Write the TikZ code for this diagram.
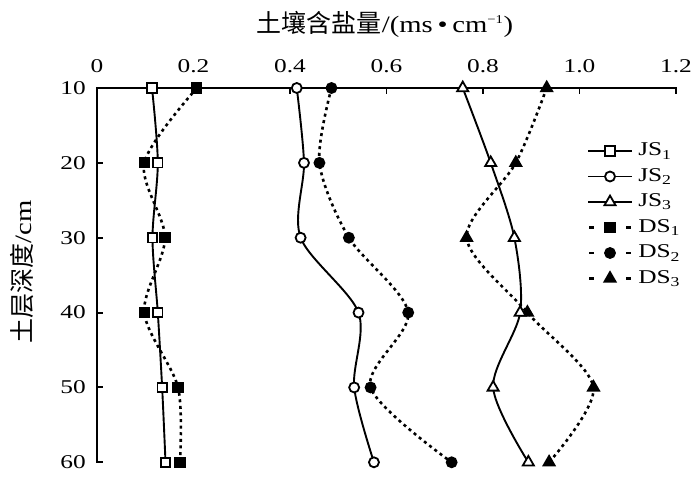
\documentclass[tikz,border=0pt]{standalone}
\usepackage{fontspec}
\usepackage{graphicx}
\usetikzlibrary{plotmarks}
\setmainfont{Liberation Serif}
\newfontfamily\cjk{Noto Sans CJK SC}
\newcommand{\wide}[1]{\scalebox{1.22}[1]{#1}}
\begin{document}
\begin{tikzpicture}[x=1pt,y=-1pt,
  axisline/.style={line width=1.9pt},
  jsline/.style={line width=1.9pt},
  dsline/.style={line width=2.6pt, dash pattern=on 3pt off 3.6pt},
  ticklbl/.style={font=\fontsize{19.5}{20}\selectfont, inner sep=0pt, xscale=1.3},
  leglbl/.style={font=\fontsize{19.5}{20}\selectfont, inner sep=0pt, anchor=west, xscale=1.3},
  sqo/.style={mark=square*, mark size=4.7pt, mark options={solid, fill=white, line width=1.8pt}},
  sqf/.style={mark=square*, mark size=4.7pt, mark options={solid, fill=black, line width=1.8pt}},
  cio/.style={mark=*, mark size=5pt, mark options={solid, fill=white, line width=1.8pt}},
  cif/.style={mark=*, mark size=5pt, mark options={solid, fill=black, line width=1.8pt}},
  tro/.style={mark=triangle*, mark size=6.4pt, mark options={solid, fill=white, line width=1.8pt}},
  trf/.style={mark=triangle*, mark size=6.4pt, mark options={solid, fill=black, line width=1.8pt}},
]
\useasboundingbox (0,0) rectangle (700,503);
% title
\node[inner sep=0pt] (title) at (385,24) {\cjk\fontsize{25}{26}\selectfont 土壤含盐量\rmfamily\fontsize{23.5}{24}\selectfont\wide{/(ms\,•\,cm\textsuperscript{\fontsize{12}{12}\selectfont −1})}};
% y label
\node[rotate=90, inner sep=0pt] (ylabel) at (22,272) {\cjk\fontsize{25}{26}\selectfont 土层深度\rmfamily\fontsize{23.5}{24}\selectfont\wide{/cm}};
% axes
\coordinate (o) at (97,88);
\coordinate (xe) at (676,88);
\coordinate (ye) at (97,462.3);
\draw[axisline] (xe) -- (o) -- (ye);
\foreach \k/\t in {0/0,1/0.2,2/0.4,3/0.6,4/0.8,5/1.0,6/1.2}{
  \pgfmathsetmacro{\xx}{97+96.5*\k}
  \draw[axisline] (\xx,87.1) -- (\xx,94);
  \node[ticklbl] (xt\k) at (\xx,66) {\t};
}
\foreach \k/\t in {0/10,1/20,2/30,3/40,4/50,5/60}{
  \pgfmathsetmacro{\yy}{88+74.86*\k}
  \draw[axisline] (96.1,\yy) -- (103,\yy);
  \node[ticklbl, anchor=east] (yt\k) at (86,\yy) {\t};
}
% data
\begin{scope}[shift={(97,13.14)}, x=482.5pt, y=-7.486pt]
\draw[dsline] plot[smooth, tension=0.5, sqf] coordinates {(0.207,10) (0.098,20) (0.141,30) (0.098,40) (0.168,50) (0.172,60)};
\draw[jsline] plot[smooth, tension=0.5, sqo] coordinates {(0.114,10) (0.126,20) (0.115,30) (0.126,40) (0.135,50) (0.142,60)};
\draw[dsline] plot[smooth, tension=0.5, cif] coordinates {(0.486,10) (0.461,20) (0.522,30) (0.645,40) (0.567,50) (0.735,60)};
\draw[jsline] plot[smooth, tension=0.5, cio] coordinates {(0.414,10) (0.429,20) (0.422,30) (0.542,40) (0.533,50) (0.574,60)};
\draw[dsline] plot[smooth, tension=0.5, trf] coordinates {(0.932,10) (0.868,20) (0.766,30) (0.892,40) (1.029,50) (0.937,60)};
\draw[jsline] plot[smooth, tension=0.5, tro] coordinates {(0.758,10) (0.816,20) (0.865,30) (0.877,40) (0.821,50) (0.894,60)};
\end{scope}
% legend
\foreach \i/\st/\lab in {0/sqo/JS\textsubscript{1},1/cio/JS\textsubscript{2},2/tro/JS\textsubscript{3}}{
  \pgfmathsetmacro{\yy}{151+25.5*\i}
  \draw[jsline] (588,\yy) -- (632,\yy);
  \path plot[\st] coordinates {(610,\yy)};
  \node[leglbl] (leg\i) at (638,\yy) {\lab};
}
\foreach \i/\st/\lab in {3/sqf/DS\textsubscript{1},4/cif/DS\textsubscript{2},5/trf/DS\textsubscript{3}}{
  \pgfmathsetmacro{\yy}{151+25.5*\i}
  \draw[line width=2.6pt] (589,\yy) -- (594,\yy);
  \draw[line width=2.6pt] (626,\yy) -- (631,\yy);
  \path plot[\st] coordinates {(610,\yy)};
  \node[leglbl] (leg\i) at (638,\yy) {\lab};
}
\end{tikzpicture}
\end{document}
